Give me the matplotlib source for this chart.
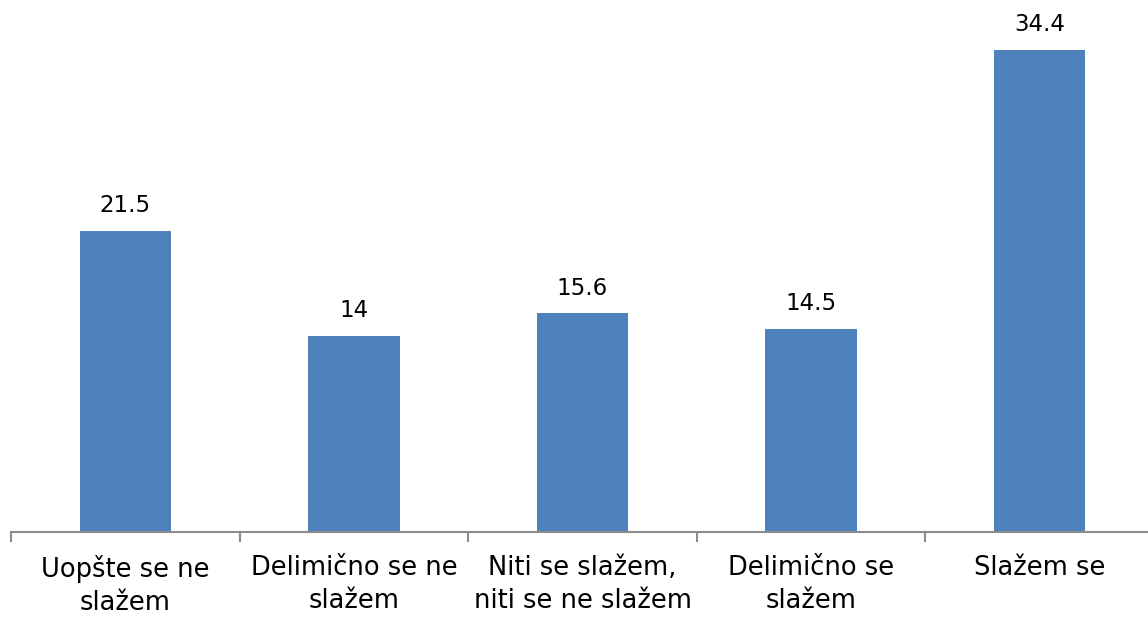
import matplotlib.pyplot as plt

# Podaci sa grafikona.
categories = ['Uopšte se ne\nslažem', 'Delimično se ne\nslažem',
              'Niti se slažem,\nniti se ne slažem', 'Delimično se\nslažem', 'Slažem se']
values = [21.5, 14, 15.6, 14.5, 34.4]
value_labels = ['21.5', '14', '15.6', '14.5', '34.4']

plt.rcParams['font.family'] = ['DejaVu Sans']

W, H = 1148, 621
fig = plt.figure(figsize=(W / 100, H / 100), dpi=100)
# Ose: leva ivica ~11px, sirina kategorije ~228.6px, osnovica na ~532px.
ymax = 36
ax = fig.add_axes([11 / W, (H - 532) / H, 1143 / W, ymax * 14.01 / H])

x = range(len(values))
bars = ax.bar(x, values, width=0.4, color='#4F81BD')
ax.set_xlim(-0.5, len(values) - 0.5)
ax.set_ylim(0, ymax)

for xi, v, lab in zip(x, values, value_labels):
    ax.annotate(lab, (xi, v), xytext=(0, 10), textcoords='offset points',
                ha='center', va='bottom', fontsize=16.5, color='#000000',
                annotation_clip=False)

for s in ['top', 'right', 'left']:
    ax.spines[s].set_visible(False)
ax.spines['bottom'].set_color('#8C8C8C')
ax.spines['bottom'].set_linewidth(1.5)
ax.set_yticks([])

ax.set_xticks([i - 0.5 for i in range(len(values) + 1)])
ax.set_xticklabels([])
ax.tick_params(axis='x', length=7, width=1.5, color='#8C8C8C')
ax.set_xticks(list(x), minor=True)
ax.set_xticklabels(categories, minor=True, fontsize=18.5, linespacing=1.35)
ax.tick_params(axis='x', which='minor', length=0, pad=16.5)

fig.savefig('out.png', dpi=100)
